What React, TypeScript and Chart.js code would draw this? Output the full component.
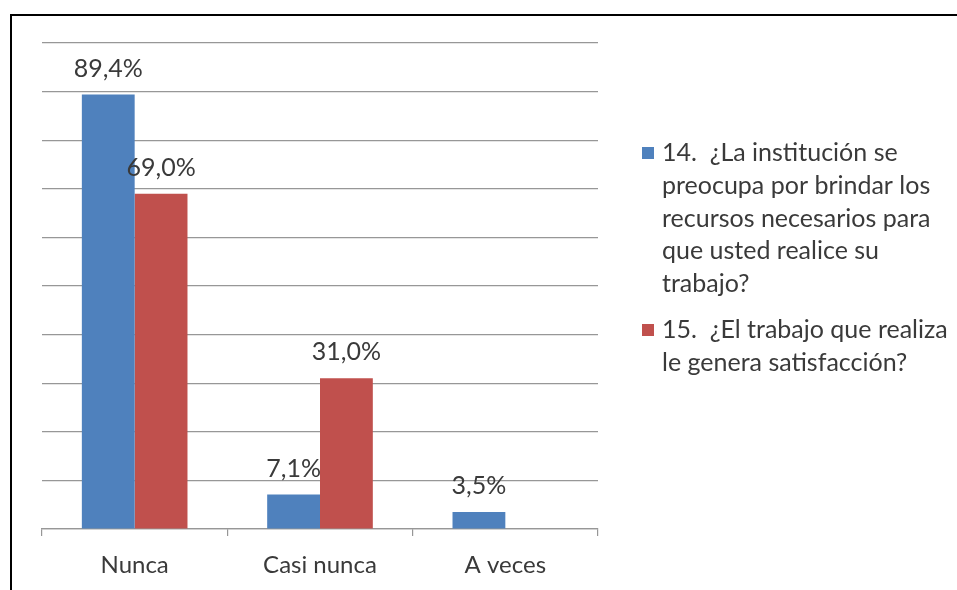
import React, { useEffect, useRef } from "react";
import { Chart, registerables } from "chart.js";

Chart.register(...registerables);

const categories: string[] = ["Nunca", "Casi nunca", "A veces"];
const series14: number[] = [89.4, 7.1, 3.5];
const series15: number[] = [69.0, 31.0, 0];
const legend14: string[] = [
  "14.  ¿La institución se",
  "preocupa por brindar los",
  "recursos necesarios para",
  "que usted realice su",
  "trabajo?",
];
const legend15: string[] = ["15.  ¿El trabajo que realiza", "le genera satisfacción?"];
const colors: string[] = ["#4F81BD", "#C0504D"];

const FONT = "Lato, 'Open Sans', sans-serif";
const TEXT = "#3a3a3a";
const GRID = "#979797";

const fmt = (v: number) => v.toFixed(1).replace(".", ",") + "%";

const labelPlugin = {
  id: "barLabels",
  afterDatasetsDraw(chart: any) {
    const ctx = chart.ctx;
    ctx.save();
    ctx.font = `25px ${FONT}`;
    ctx.fillStyle = TEXT;
    ctx.textAlign = "center";
    ctx.textBaseline = "middle";
    chart.data.datasets.forEach((ds: any, di: number) => {
      const meta = chart.getDatasetMeta(di);
      meta.data.forEach((bar: any, i: number) => {
        const v = ds.data[i];
        if (!v) return;
        ctx.fillText(fmt(v), bar.x, bar.y - 26);
      });
    });
    ctx.restore();
  },
};

const legendPlugin = {
  id: "customLegend",
  afterDraw(chart: any) {
    const ctx = chart.ctx;
    const area = chart.chartArea;
    const x0 = area.right + 44;
    const textX = x0 + 20;
    const lineH = 32.8;
    let y = 153;
    ctx.save();
    ctx.font = `25px ${FONT}`;
    ctx.textAlign = "left";
    ctx.textBaseline = "middle";
    chart.data.datasets.forEach((ds: any) => {
      const lines: string[] = ds.legendLines;
      ctx.fillStyle = ds.backgroundColor;
      ctx.fillRect(x0, y - 6, 12, 12);
      ctx.fillStyle = TEXT;
      lines.forEach((ln, li) => {
        ctx.fillText(ln, textX, y + li * lineH);
      });
      y += lines.length * lineH + 13;
    });
    ctx.restore();
  },
};

export default function App() {
  const ref = useRef<HTMLCanvasElement | null>(null);
  useEffect(() => {
    if (!ref.current) return;
    const chart = new Chart(ref.current, {
      type: "bar",
      data: {
        labels: categories,
        datasets: [
          { label: legend14.join(" "), data: series14, backgroundColor: colors[0], legendLines: legend14 } as any,
          { label: legend15.join(" "), data: series15, backgroundColor: colors[1], legendLines: legend15 } as any,
        ],
      },
      options: {
        responsive: false,
        animation: false,
        devicePixelRatio: 1,
        layout: { padding: { left: 0, right: 359, top: 43, bottom: 0 } },
        plugins: { legend: { display: false }, tooltip: { enabled: false } },
        datasets: { bar: { categoryPercentage: 0.57, barPercentage: 1.0 } },
        scales: {
          x: {
            afterFit: (s: any) => {
              s.height = 61;
            },
            grid: { drawOnChartArea: false, drawTicks: true, tickLength: 7, color: GRID, lineWidth: 1.2, offset: true },
            border: { display: true, color: GRID, width: 1.2 },
            ticks: { color: TEXT, font: { family: FONT, size: 24 }, padding: 15 },
          },
          y: {
            min: 0,
            max: 100,
            afterFit: (s: any) => {
              s.width = 42;
            },
            ticks: { display: false, stepSize: 10 },
            grid: { color: GRID, lineWidth: 1.2, drawTicks: false },
            border: { display: false },
          },
        },
      },
      plugins: [labelPlugin, legendPlugin],
    });
    return () => chart.destroy();
  }, []);
  return (
    <div style={{ position: "fixed", left: 0, top: 0, width: 957, height: 590, background: "#fff" }}>
      <canvas ref={ref} width={957} height={590} style={{ position: "absolute", left: 0, top: 0 }} />
      <div
        style={{
          position: "absolute",
          left: 10,
          top: 14,
          width: 957,
          height: 600,
          borderLeft: "2px solid #000",
          borderTop: "2px solid #000",
          pointerEvents: "none",
        }}
      />
    </div>
  );
}
